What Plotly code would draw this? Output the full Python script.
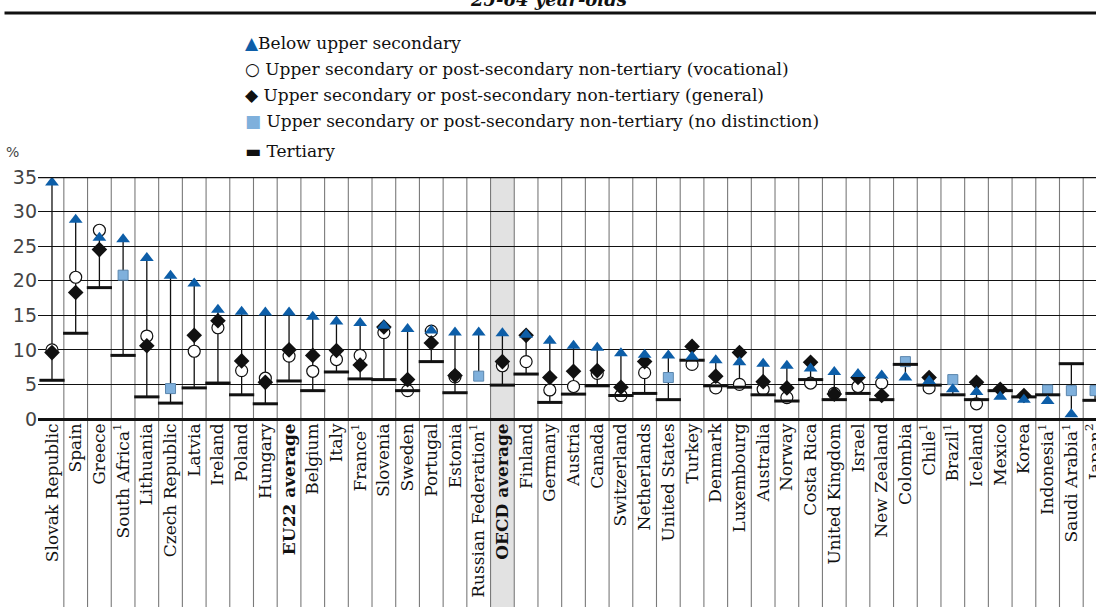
import plotly.graph_objects as go

# Unemployment rates of 25-64 year-olds, by educational attainment (%)
countries = [
    "Slovak Republic", "Spain", "Greece", "South Africa<sup>1</sup>", "Lithuania",
    "Czech Republic", "Latvia", "Ireland", "Poland", "Hungary", "<b>EU22 average</b>",
    "Belgium", "Italy", "France<sup>1</sup>", "Slovenia", "Sweden", "Portugal", "Estonia",
    "Russian Federation<sup>1</sup>", "<b>OECD average</b>", "Finland", "Germany", "Austria",
    "Canada", "Switzerland", "Netherlands", "United States", "Turkey", "Denmark",
    "Luxembourg", "Australia", "Norway", "Costa Rica", "United Kingdom", "Israel",
    "New Zealand", "Colombia", "Chile<sup>1</sup>", "Brazil<sup>1</sup>", "Iceland", "Mexico",
    "Korea", "Indonesia<sup>1</sup>", "Saudi Arabia<sup>1</sup>", "Japan<sup>2</sup>",
]

below_upper_secondary = [
    34.2, 28.8, 26.2, 26.0, 23.3, 20.7, 19.6, 15.8, 15.5, 15.4, 15.4,
    14.8, 14.1, 13.9, 13.5, 13.0, 12.8, 12.5, 12.5, 12.4, 12.2, 11.3, 10.6,
    10.3, 9.5, 9.3, 9.2, 9.0, 8.5, 8.2, 8.0, 7.7, 7.3, 6.8, 6.5,
    6.3, 6.0, 5.5, 4.3, 3.9, 3.2, 2.8, 2.6, 0.7, None,
]

vocational = [
    10.0, 20.5, 27.3, None, 12.0, None, 9.8, 13.2, 7.0, 5.9, 9.1,
    6.9, 8.6, 9.2, 12.5, 4.1, 12.7, 6.1, None, 7.7, 8.3, 4.2, 4.7,
    6.6, 3.4, 6.7, None, 7.9, 4.5, 5.0, 4.3, 3.1, 5.2, 3.7, 4.7,
    5.2, None, 4.5, None, 2.2, None, None, None, None, None,
]

general = [
    9.6, 18.3, 24.5, None, 10.6, None, 12.1, 14.2, 8.4, 5.3, 10.0,
    9.2, 9.9, 7.8, 13.3, 5.7, 11.0, 6.3, None, 8.3, 12.1, 6.0, 6.9,
    7.0, 4.6, 8.3, None, 10.5, 6.2, 9.6, 5.4, 4.5, 8.2, 3.6, 6.0,
    3.4, None, 6.0, None, 5.3, 4.3, 3.4, None, None, None,
]

no_distinction = [
    None, None, None, 20.8, None, 4.4, None, None, None, None, None,
    None, None, None, None, None, None, None, 6.2, None, None, None, None,
    None, None, None, 6.0, None, None, None, None, None, None, None, None,
    None, 8.3, None, 5.7, None, None, None, 4.2, 4.1, 4.1,
]

tertiary = [
    5.6, 12.4, 19.0, 9.2, 3.2, 2.3, 4.5, 5.2, 3.5, 2.2, 5.5,
    4.1, 6.8, 5.8, 5.7, 4.1, 8.3, 3.8, None, 4.9, 6.5, 2.4, 3.6,
    4.8, 3.4, 3.7, 2.8, 8.5, 4.8, 4.6, 3.5, 2.6, 5.7, 2.8, 3.7,
    2.8, 7.9, 4.9, 3.5, 2.8, 4.1, 3.2, 3.5, 8.0, 2.7,
]

y_ticks = [0, 5, 10, 15, 20, 25, 30, 35]
highlight = "<b>OECD average</b>"

BLUE = "#0d5ea8"
LIGHT_BLUE = "#7fb0dc"
SERIF = "DejaVu Serif"
SANS = "DejaVu Sans"

W, H = 1096, 607
M_L, M_T, M_B = 37.5, 177, 188
plot_w = W - M_L
plot_h = H - M_T - M_B

# range line per country: spans lowest to highest value
series = [below_upper_secondary, vocational, general, no_distinction, tertiary]
rx, ry = [], []
for i, c in enumerate(countries):
    vals = [s[i] for s in series if s[i] is not None]
    if len(vals) > 1:
        rx += [c, c, None]
        ry += [min(vals), max(vals), None]

fig = go.Figure()
fig.add_trace(go.Scatter(x=rx, y=ry, mode="lines",
                         line=dict(color="#111111", width=1.3), hoverinfo="skip"))
fig.add_trace(go.Scatter(x=countries, y=vocational, mode="markers",
                         marker=dict(symbol="circle", size=12, color="white",
                                     line=dict(color="#111111", width=1.2))))
fig.add_trace(go.Scatter(x=countries, y=no_distinction, mode="markers",
                         marker=dict(symbol="square", size=10, color=LIGHT_BLUE,
                                     line=dict(color="#5b86ad", width=1))))
fig.add_trace(go.Scatter(x=countries, y=general, mode="markers",
                         marker=dict(symbol="diamond", size=12, color="#111111",
                                     line=dict(width=0))))
fig.add_trace(go.Scatter(x=countries, y=tertiary, mode="markers",
                         marker=dict(symbol="line-ew", size=18,
                                     line=dict(color="#111111", width=3))))
fig.add_trace(go.Scatter(x=countries, y=below_upper_secondary, mode="markers",
                         marker=dict(symbol="triangle-up", size=12, color=BLUE,
                                     line=dict(width=0))))

shapes = []
bottom = -M_B / plot_h
# highlighted column
k = countries.index(highlight)
shapes.append(dict(type="rect", xref="x", yref="paper", x0=k - 0.5, x1=k + 0.5,
                   y0=bottom, y1=1, fillcolor="#e2e2e2", line=dict(width=0),
                   layer="below"))
# column separators
for k in range(len(countries) - 1):
    shapes.append(dict(type="line", xref="x", yref="paper", x0=k + 0.5, x1=k + 0.5,
                       y0=bottom, y1=1, line=dict(color="#7a7a7a", width=1.1),
                       layer="below"))
# top frame line
shapes.append(dict(type="line", xref="paper", yref="y", x0=0, x1=1, y0=35, y1=35,
                   line=dict(color="#111111", width=2.5)))
# rule under the heading
shapes.append(dict(type="line", xref="paper", yref="paper",
                   x0=(4 - M_L) / plot_w, x1=1,
                   y0=1 + (M_T - 13) / plot_h, y1=1 + (M_T - 13) / plot_h,
                   line=dict(color="#111111", width=3)))


def px_x(px):
    return (px - M_L) / plot_w


def px_y(py):
    return 1 + (M_T - py) / plot_h


legend_rows = [
    (f'<span style="color:{BLUE}">▲</span>Below upper secondary', 43),
    ('○ Upper secondary or post-secondary non-tertiary (vocational)', 69),
    ('◆ Upper secondary or post-secondary non-tertiary (general)', 95),
    (f'<span style="color:{LIGHT_BLUE}">■</span> Upper secondary or post-secondary non-tertiary (no distinction)', 121),
    ('▬ Tertiary', 151),
]
annotations = []
for text, py in legend_rows:
    annotations.append(dict(text=text, xref="paper", yref="paper", x=px_x(243),
                            y=px_y(py), xanchor="left", yanchor="middle",
                            showarrow=False, font=dict(family=SERIF, size=17, color="#111111")))
annotations.append(dict(text="%", xref="paper", yref="paper", x=px_x(3), y=px_y(152),
                        xanchor="left", yanchor="middle", showarrow=False,
                        font=dict(family=SANS, size=14, color="#444444")))
annotations.append(dict(text="<b><i>25-64 year-olds</i></b>", xref="paper", yref="paper",
                        x=px_x(548), y=px_y(0), xanchor="center", yanchor="middle",
                        showarrow=False, font=dict(family=SERIF, size=18, color="#111111")))

fig.update_layout(
    width=W, height=H,
    margin=dict(l=M_L, r=0, t=M_T, b=M_B, autoexpand=False),
    paper_bgcolor="white", plot_bgcolor="rgba(0,0,0,0)",
    showlegend=False,
    shapes=shapes, annotations=annotations,
    xaxis=dict(type="category", categoryorder="array", categoryarray=countries,
               range=[-0.59, 44.04], tickangle=-90, showgrid=False, zeroline=False,
               showline=False, ticks="", tickfont=dict(family=SERIF, size=17, color="#111111")),
    yaxis=dict(range=[0, 35], tickvals=y_ticks, showgrid=True, gridcolor="#111111",
               gridwidth=1.2, zeroline=True, zerolinecolor="#111111", zerolinewidth=3,
               showline=False, ticks="",
               tickfont=dict(family=SANS, size=19, color="#444444")),
)

fig.write_html("out.html")
